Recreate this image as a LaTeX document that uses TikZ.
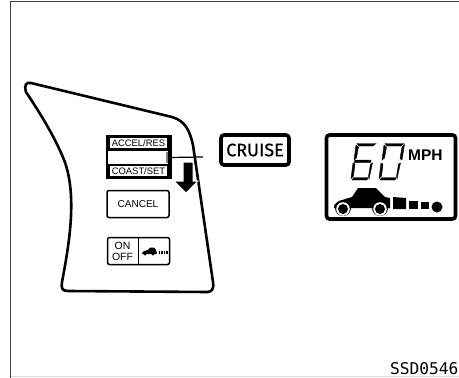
\documentclass[tikz,border=0pt]{standalone}
\usepackage{fontspec}
\setmainfont{Liberation Sans}
\newfontfamily\labelfont{DejaVu Sans Mono}
\newfontfamily\cruisefont[FakeBold=0.6]{Fira Sans}
\usepackage{tikz}
\usetikzlibrary{arrows.meta, positioning, calc}
\tikzset{
  panelbtn/.style={draw, line width=1.5pt, rounded corners=2pt, minimum width=62pt, inner sep=0pt, align=center},
  swlabel/.style={fill=white, minimum width=57pt, minimum height=9.5pt, inner sep=0pt, font=\fontsize{9.4}{10}\selectfont},
  indicator/.style={draw, line width=3.6pt, rounded corners=3pt, inner sep=0pt},
  seg/.style={fill=black, draw=black, line width=0.4pt}
}
% segments of one display digit
\newcommand{\segtop}{\path[seg] (8,0.5) -- (27,0.5) -- (24,3) -- (10,3) -- cycle;}
\newcommand{\segmid}{\path[seg] (6,17) -- (22,17) -- (22,19.5) -- (5,19.5) -- cycle;}
\newcommand{\segbot}{\path[seg] (3,37) -- (18,37) -- (19,34.5) -- (5,34.5) -- cycle;}
\newcommand{\segul}{\path[seg] (7,2) -- (9.5,4) -- (7.5,15) -- (5,17) -- cycle;}
\newcommand{\segll}{\path[seg] (4,20) -- (6,21) -- (4.5,33) -- (2,35.5) -- cycle;}
\newcommand{\segur}{\path[seg] (27.5,1.5) -- (25,4) -- (23,15.5) -- (25,17) -- cycle;}
\newcommand{\seglr}{\path[seg] (23.5,20) -- (21.5,21) -- (19.5,33.5) -- (20,36) -- cycle;}
\begin{document}
\begin{tikzpicture}[x=1pt,y=-1pt]
    \useasboundingbox (0,0) rectangle (459,378);
    % page frame
    \draw[line width=1.6pt, black!75] (10.5,378) -- (10.5,1.5) -- (459,1.5);
    \draw[line width=0.8pt, black!15] (11,376.8) -- (459,376.8);
    % housing of the switches
    \draw[line width=2.6pt] (26,92) .. controls (24,85) and (26,82) .. (31,83)
      -- (172,117) .. controls (186,121) and (190,132) .. (193,145)
      -- (213,282) .. controls (214,289) and (212,292) .. (207,292)
      -- (68,291) .. controls (62,291) and (61,288) .. (62,282)
      .. controls (70,240) and (78,190) .. (62,155) .. controls (52,132) and (38,110) .. (26,92) -- cycle;
    % accel / coast switch
    \node[fill=black, minimum width=66pt, minimum height=44pt, inner sep=0pt] (switch) at (138.5,157) {};
    \node[swlabel] (accel) at (138.5,143) {ACCEL/RES};
    \node[fill=white, minimum width=60pt, minimum height=13pt, inner sep=0pt] (rocker) at (138,157.5) {};
    \node[swlabel] (coast) at (138.5,171) {COAST/SET};
    \fill[black!50] (166,152) rectangle (168,163);
    \coordinate (leaderend) at (203,157);
    \draw[line width=1.2pt] (rocker.east) -- (leaderend);
    % arrow
    \filldraw[draw=white, line width=1pt] (183,162) -- (193,162) -- (193,181) -- (198,181) -- (186,193) -- (174,181) -- (183,181) -- cycle;
    \node[panelbtn, minimum height=27pt, font=\fontsize{10}{10}\selectfont] (cancel) at (138,204) {CANCEL};
    \node[panelbtn, minimum height=27pt] (onoff) at (138.5,251) {};
    \draw[line width=1.2pt] (onoff.north) -- (onoff.south);
    \node[font=\fontsize{10.5}{11}\selectfont, align=center, inner sep=0pt] (onofflabel) at (122.5,251) {ON\\OFF};
    % tiny car on the button
    \fill (142,253) -- (144,251) -- (148,250) -- (150,247.5) -- (154,247.5) -- (156,250) -- (157,253) -- (156,254) -- (142,254) -- cycle;
    \foreach \xw in {145,153} \fill (\xw,254) circle (1.6);
    \foreach \xb in {158.5,161,163.5,166} \fill (\xb,250.5) rectangle ++(1.7,3);
    % cruise indicator
    \node[indicator, minimum width=68pt, minimum height=30pt, font=\cruisefont\fontsize{18}{18}\selectfont] (cruise) at (255,150) {CRUISE};
    % display
    \node[indicator, minimum width=129pt, minimum height=84pt] (display) at (391,177) {};
    \node[font=\bfseries\fontsize{15.5}{15.5}\selectfont, inner sep=0pt, anchor=base west] (mph) at (408,160) {MPH};
    % the 60
    \begin{scope}[shift={(349,143)}]
      \segtop \segul \segmid \segll \segbot \seglr
    \end{scope}
    \begin{scope}[shift={(377,143)}]
      \segtop \segul \segur \segll \seglr \segbot
    \end{scope}
    % car and distance bars
    \fill (334,208) .. controls (333,203) and (338,201) .. (352,197) -- (358,188) -- (376,188) -- (385,197) -- (390,198) -- (390,208) -- cycle;
    \foreach \xw in {343,380} {
      \fill (\xw,208) circle (8);
      \fill[white] (\xw,209) circle (6.8);
      \fill (\xw,209) circle (5);
    }
    \fill (393,197) -- (406,198) -- (406,209) -- (393,209) -- cycle;
    \fill (409,201) rectangle (418,209);
    \fill (421,202) rectangle (429,209);
    \fill (437,207) circle (5.5);
    % code of the figure
    \node[font=\labelfont\fontsize{16.2}{16.2}\selectfont, anchor=base west, inner sep=0pt] (code) at (390,374) {SSD0546};
  \end{tikzpicture}
\end{document}
